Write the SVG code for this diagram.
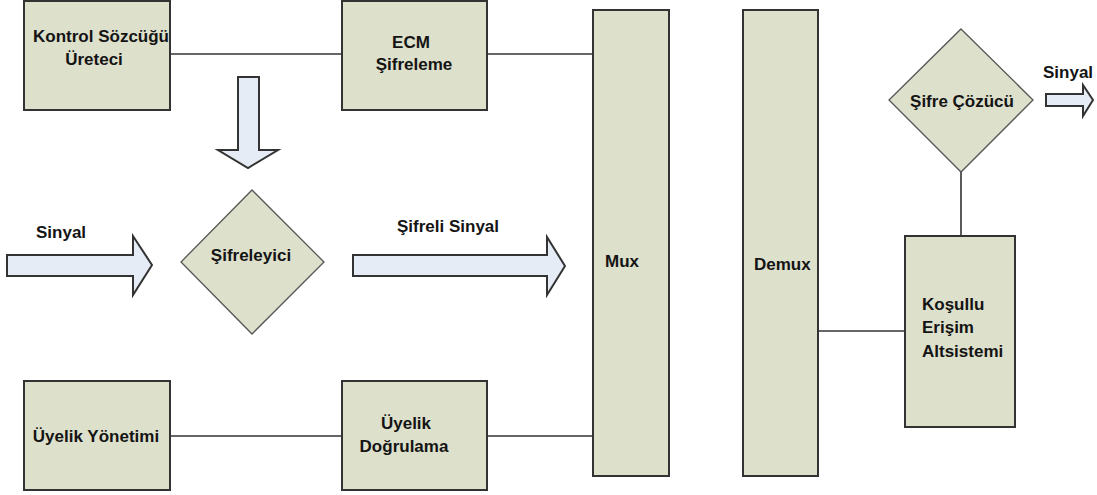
<svg xmlns="http://www.w3.org/2000/svg" width="1097" height="495" viewBox="0 0 1097 495">
<style>
.box{fill:#dde0cb;stroke:#333;stroke-width:2}
.dia{fill:#dde0cb;stroke:#555;stroke-width:1.3}
.arr{fill:#e6ecf6;stroke:#333;stroke-width:2;stroke-linejoin:miter}
.ln{stroke:#333;stroke-width:1.6;fill:none}
text{font-family:"Liberation Sans",Arial,sans-serif;font-weight:bold;font-size:17px;fill:#141414}
.m{text-anchor:middle}
</style>
<rect width="1097" height="495" fill="#fff"/>
<g id="connectors">
<line class="ln" x1="170" y1="54" x2="342" y2="54"/>
<line class="ln" x1="487" y1="54" x2="594" y2="54"/>
<line class="ln" x1="170" y1="436" x2="342" y2="436"/>
<line class="ln" x1="487" y1="436" x2="594" y2="436"/>
<line class="ln" x1="818" y1="331" x2="905" y2="331"/>
<line class="ln" x1="961" y1="172" x2="961" y2="236"/>
</g>
<g id="kontrol">
<rect class="box" x="24" y="1" width="146" height="109"/>
<text class="m" x="101" y="42">Kontrol Sözcüğü</text>
<text class="m" x="94" y="65">Üreteci</text>
</g>
<g id="ecm">
<rect class="box" x="342" y="1" width="145" height="109"/>
<text class="m" x="411" y="48">ECM</text>
<text class="m" x="414" y="70">Şifreleme</text>
</g>
<g id="down-arrow">
<polygon class="arr" points="238,77 259,77 259,150 278,150 248,168 218,150 238,150"/>
</g>
<g id="sifreleyici">
<polygon class="dia" points="252,190 324,262 252,334 181,262"/>
<text class="m" x="251" y="261">Şifreleyici</text>
</g>
<g id="sinyal-in">
<polygon class="arr" points="7,255 133,255 133,236 152,265 133,295 133,276 7,276"/>
<text x="36" y="238">Sinyal</text>
</g>
<g id="sifreli-sinyal">
<polygon class="arr" points="353,255 547,255 547,237 565,266 547,295 547,276 353,276"/>
<text class="m" x="448" y="232">Şifreli Sinyal</text>
</g>
<g id="mux">
<rect class="box" x="593" y="10" width="76" height="466"/>
<text x="605" y="267">Mux</text>
</g>
<g id="demux">
<rect class="box" x="743" y="10" width="75" height="466"/>
<text x="754" y="270">Demux</text>
</g>
<g id="sifre-cozucu">
<polygon class="dia" points="961,29 1033,100 961,172 889,100"/>
<text class="m" x="962" y="107">Şifre Çözücü</text>
</g>
<g id="sinyal-out">
<polygon class="arr" points="1046,94 1083,94 1083,85 1093,100 1083,116 1083,106 1046,106"/>
<text x="1043" y="78">Sinyal</text>
</g>
<g id="kosullu">
<rect class="box" x="905" y="236" width="110" height="191"/>
<text x="922" y="310">Koşullu</text>
<text x="922" y="333">Erişim</text>
<text x="922" y="357">Altsistemi</text>
</g>
<g id="uyelik-yonetimi">
<rect class="box" x="24" y="381" width="146" height="109"/>
<text class="m" x="96" y="442">Üyelik Yönetimi</text>
</g>
<g id="uyelik-dogrulama">
<rect class="box" x="342" y="381" width="145" height="109"/>
<text class="m" x="406" y="429">Üyelik</text>
<text class="m" x="404" y="452">Doğrulama</text>
</g>
</svg>
